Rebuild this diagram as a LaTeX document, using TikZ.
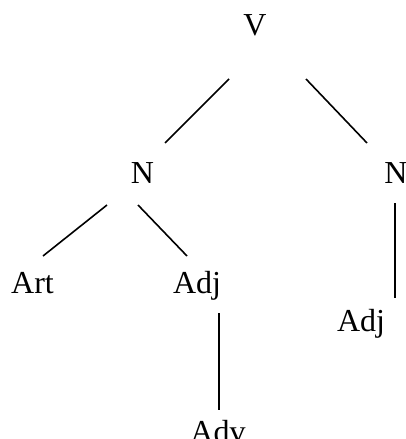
\documentclass[tikz,border=0pt]{standalone}
\usepackage{fontspec}
\setmainfont{Liberation Serif}
\begin{document}
\begin{tikzpicture}[x=1pt,y=-1pt,
  cat/.style={anchor=base,inner sep=0pt,font=\fontsize{32}{32}\selectfont},
  edge/.style={line width=1.6pt}]
\useasboundingbox (0,0) rectangle (405,439);
% category labels (placed on their baselines)
\node[cat] (V)   at (255,35)  {V};
\node[cat] (N1)  at (142.5,183) {N};
\node[cat] (N2)  at (396,183) {N};
\node[cat] (Art) at (32.5,293) {Art};
\node[cat] (Adj1) at (197,293) {Adj};
\node[cat] (Adj2) at (361,331) {Adj};
\node[cat] (Adv) at (218,442) {Adv};
% branch end points
\coordinate (v1) at (229,79);   \coordinate (n1t) at (165,143);
\coordinate (v2) at (306,79);   \coordinate (n2t) at (367,143);
\coordinate (n1a) at (107,205); \coordinate (art) at (43,256);
\coordinate (n1b) at (138,205); \coordinate (adj1) at (187,256);
\coordinate (n2b) at (395,203); \coordinate (adj2) at (395,298);
\coordinate (adjd) at (219,313); \coordinate (adv) at (219,410);
\draw[edge] (v1) -- (n1t);
\draw[edge] (v2) -- (n2t);
\draw[edge] (n1a) -- (art);
\draw[edge] (n1b) -- (adj1);
\draw[edge] (n2b) -- (adj2);
\draw[edge] (adjd) -- (adv);
\end{tikzpicture}
\end{document}
